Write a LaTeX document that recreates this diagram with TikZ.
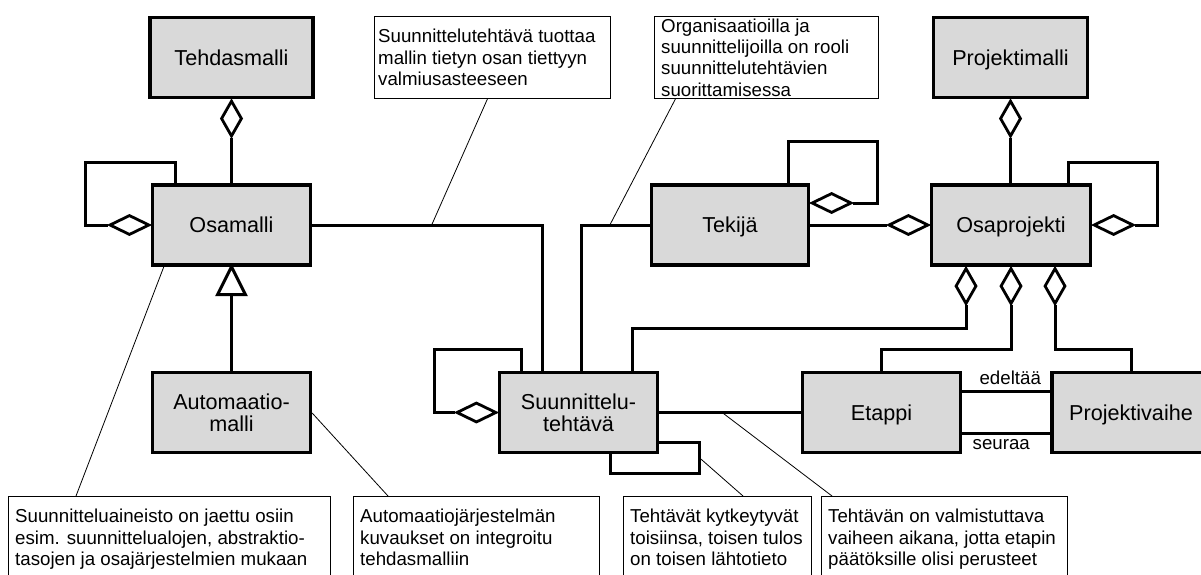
\documentclass[tikz,border=0pt]{standalone}
\usepackage{fontspec}
\setmainfont{Liberation Sans}
\usetikzlibrary{shapes.geometric,calc}
\definecolor{boxgray}{RGB}{217,217,217}
\newcommand{\entfont}{\fontsize{21.6pt}{22pt}\selectfont}
\newcommand{\remfont}{\fontsize{18.7pt}{21.3pt}\selectfont}

\begin{document}
\begin{tikzpicture}[x=1pt, y=-1pt,
  entity/.style={draw, line width=3.3pt, fill=boxgray, minimum width=158pt,
    minimum height=80pt, inner sep=0pt, font=\entfont,
    text height=15.5pt, text depth=0pt},
  entity2/.style={draw, line width=3.3pt, fill=boxgray, minimum width=158pt,
    minimum height=80pt, inner sep=0pt, font=\entfont, align=center},
  conn/.style={line width=3pt},
  agg/.style={diamond, draw, fill=white, line width=2.8pt, inner sep=0pt},
  aggv/.style={agg, minimum width=21pt, minimum height=36pt},
  aggh/.style={agg, minimum width=40pt, minimum height=20pt},
  notebox/.style={draw, line width=0.9pt, fill=white, minimum height=82pt,
    inner sep=0pt, anchor=north west},
  notetext/.style={font=\remfont, align=left, inner sep=0pt, anchor=west},
  leader/.style={line width=0.8pt},
  rel/.style={font=\remfont, inner sep=4.5pt}
]
\useasboundingbox (0,0) rectangle (1201,574);
\clip (0,0) rectangle (1201,574);

% classes
\node[entity, minimum width=163pt] (tehdas) at (231.5,57.5) {Tehdasmalli};
\node[entity] (osamalli) at (231.5,225) {Osamalli};
\node[entity2] (automaatio) at (231.5,412.5) {Automaatio-\\malli};
\node[entity, minimum width=157pt] (tekija) at (730,225) {Tekijä};
\node[entity, minimum width=154pt] (projekti) at (1010.5,57.5) {Projektimalli};
\node[entity, minimum width=159pt] (osaprojekti) at (1011,225) {Osaprojekti};
\node[entity2] (suunn) at (578.5,412.5) {Suunnittelu-\\tehtävä};
\node[entity] (etappi) at (881.5,412.5) {Etappi};
\node[entity] (vaihe) at (1131,412.5) {Projektivaihe};

% aggregation diamonds
\node[aggv, anchor=north] (d_teh) at (tehdas.south) {};
\node[aggh, anchor=east] (d_osa) at (osamalli.west) {};
\node[aggh, anchor=west] (d_tek) at ($(tekija.east)+(0,-22)$) {};
\node[aggh, anchor=east] (d_ospl) at (osaprojekti.west) {};
\node[aggh, anchor=west] (d_ospr) at (osaprojekti.east) {};
\node[aggv, anchor=north] (d_pm) at (projekti.south) {};
\node[aggv, anchor=north] (d_b1) at ($(osaprojekti.south)+(-45,0)$) {};
\node[aggv, anchor=north] (d_b2) at (osaprojekti.south) {};
\node[aggv, anchor=north] (d_b3) at ($(osaprojekti.south)+(44,0)$) {};
\node[aggh, anchor=east] (d_su) at (suunn.west) {};

% associations
\draw[conn] (d_teh.south) -- (osamalli.north);
\draw[conn] ($(osamalli.north)+(-56.5,0)$) |- ($(d_osa.west)+(-23,-63)$) |- (d_osa.west);
\draw[conn, fill=white] (osamalli.south) -- ++(-14,28) -- ++(28,0) -- cycle;
\coordinate (gen) at ($(osamalli.south)+(0,28)$);
\draw[conn] (gen) -- (automaatio.north);
\draw[conn] (osamalli.east) -| ($(suunn.north)+(-36.5,0)$);
\draw[conn] (tekija.west) -| ($(suunn.north)+(2.5,0)$);
\draw[conn] ($(tekija.north)+(58,0)$) |- ($(d_tek.east)+(25,-62)$) |- (d_tek.east);
\draw[conn] (tekija.east) -- (d_ospl.west);
\draw[conn] (d_pm.south) -- (d_pm.south |- osaprojekti.north);
\draw[conn] ($(osaprojekti.north)+(57,0)$) |- ($(d_ospr.east)+(23,-63)$) |- (d_ospr.east);
\draw[conn] (d_b1.south) -- ++(0,23) -| ($(suunn.north)+(53.5,0)$);
\draw[conn] (d_b2.south) -- ++(0,44) -| (etappi.north);
\draw[conn] (d_b3.south) -- ++(0,44) -| (vaihe.north);
\draw[conn] ($(suunn.north)+(-57.5,0)$) |- ($(d_su.west)+(-21,-63)$) |- (d_su.west);
\draw[conn] ($(suunn.south)+(31.5,0)$) |- ($(suunn.east)+(40,60.5)$) |- ($(suunn.east)+(0,29.5)$);
\draw[conn] (suunn.east) -- (etappi.west);
\draw[conn] ($(etappi.east)+(0,-21.5)$) -- ($(vaihe.west)+(0,-21.5)$)
  node[rel, midway, above, xshift=4pt] (lbl_e) {edeltää};
\draw[conn] ($(etappi.east)+(0,20.5)$) -- ($(vaihe.west)+(0,20.5)$)
  node[rel, midway, below, xshift=-5pt] (lbl_s) {seuraa};

% notes
\node[notebox, minimum width=236pt] (c1) at (374,16) {};
\node[notetext] (c1t) at ($(c1.west)+(4,0)$)
  {Suunnittelutehtävä tuottaa\\mallin tietyn osan tiettyyn\\valmiusasteeseen};
\node[notebox, minimum width=224pt] (c2) at (654,16) {};
\node[notetext] (c2t) at ($(c2.west)+(7,0)$)
  {Organisaatioilla ja\\suunnittelijoilla on rooli\\suunnittelutehtävien\\suorittamisessa};
\node[notebox, minimum width=322pt] (c3) at (8,496) {};
\node[notetext] (c3t) at ($(c3.west)+(7,2)$)
  {Suunnitteluaineisto on jaettu osiin\\esim. suunnittelualojen, abstraktio-\\tasojen ja osajärjestelmien mukaan};
\node[notebox, minimum width=246pt] (c4) at (353,496) {};
\node[notetext] (c4t) at ($(c4.west)+(7,0)$)
  {Automaatiojärjestelmän\\kuvaukset on integroitu\\tehdasmalliin};
\node[notebox, minimum width=188pt] (c5) at (623,496) {};
\node[notetext] (c5t) at ($(c5.west)+(7,0)$)
  {Tehtävät kytkeytyvät\\toisiinsa, toisen tulos\\on toisen lähtotieto};
\node[notebox, minimum width=246pt] (c6) at (821,496) {};
\node[notetext] (c6t) at ($(c6.west)+(7,2)$)
  {Tehtävän on valmistuttava\\vaiheen aikana, jotta etapin\\päätöksille olisi perusteet};

% note leaders
\coordinate (p1) at ($(osamalli.east)+(119.5,0)$);
\coordinate (p2) at ($(tekija.west)+(-40,0)$);
\coordinate (p5) at ($(suunn.east)+(40,45)$);
\coordinate (p6) at ($(suunn.east)+(63,0)$);
\draw[leader] ($(c1.south)+(-5,0)$) -- (p1);
\draw[leader] ($(c2.south)+(-91,0)$) -- (p2);
\draw[leader] ($(osamalli.south west)+(13,0)$) -- ($(c3.north west)+(68,0)$);
\draw[leader] ($(automaatio.east)+(0,0.5)$) -- ($(c4.north west)+(35,0)$);
\draw[leader] (p5) -- ($(c5.north west)+(120,0)$);
\draw[leader] (p6) -- ($(c6.north west)+(11,0)$);
\end{tikzpicture}
\end{document}
